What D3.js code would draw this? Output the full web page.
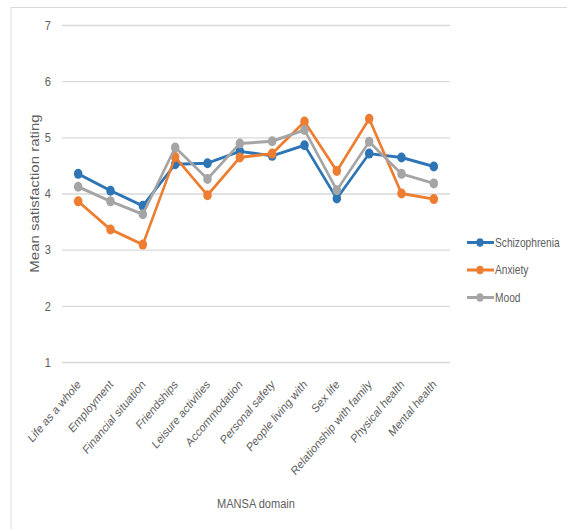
<!DOCTYPE html>
<html>
<head>
<meta charset="utf-8">
<script src="https://cdn.jsdelivr.net/npm/d3@7"></script>
<style>
  html, body { margin: 0; padding: 0; background: #fff; }
  svg { display: block; font-family: "Liberation Sans", Arial, sans-serif; }
</style>
</head>
<body>
<svg id="chart" width="567" height="529"></svg>
<script>
// MANSA domains on the x axis
const domains = [
  "Life as a whole", "Employment", "Financial situation", "Friendships",
  "Leisure activities", "Accommodation", "Personal safety", "People living with",
  "Sex life", "Relationship with family", "Physical health", "Mental health"
];

// Mean satisfaction rating per diagnostic group
const schizophrenia = [4.35, 4.05, 3.78, 4.52, 4.54, 4.75, 4.67, 4.86, 3.91, 4.71, 4.64, 4.48];
const anxiety       = [3.86, 3.36, 3.09, 4.65, 3.97, 4.64, 4.71, 5.28, 4.40, 5.33, 4.00, 3.90];
const mood          = [4.12, 3.86, 3.63, 4.82, 4.26, 4.89, 4.93, 5.13, 4.06, 4.92, 4.35, 4.18];

const seriesNames = ["Schizophrenia", "Anxiety", "Mood"];
const seriesColors = ["#2e75b6", "#ed7d31", "#a5a5a5"];
const yTicks = [1, 2, 3, 4, 5, 6, 7];

const series = [schizophrenia, anxiety, mood].map((values, i) => ({
  name: seriesNames[i], color: seriesColors[i], values
}));

// The figure is laid out in a slightly wider space and squeezed horizontally,
// giving the narrow, tall lettering of the exported chart.
const k = 0.85;
const sx = px => px / k;   // screen x -> drawing x

const svg = d3.select("#chart");
const root = svg.append("g").attr("transform", `scale(${k},1)`);

// light chart-area frame
root.append("rect")
  .attr("x", sx(11)).attr("y", 7.5)
  .attr("width", sx(600)).attr("height", 600)
  .attr("fill", "none").attr("stroke", "#d9d9d9").attr("stroke-width", 1);

const plot = { left: sx(62), right: sx(450), top: 25, bottom: 362 };

const x = d3.scaleBand().domain(domains).range([plot.left, plot.right]);
const y = d3.scaleLinear().domain([1, 7]).range([plot.bottom, plot.top]);
const cx = d => x(d) + x.bandwidth() / 2;

const textColor = "#606060";

// horizontal gridlines + y tick labels
const yAxis = d3.axisLeft(y).tickValues(yTicks)
  .tickSize(-(plot.right - plot.left)).tickPadding(sx(11)).tickFormat(d3.format("d"));
const gy = root.append("g").attr("transform", `translate(${plot.left},0)`).call(yAxis);
gy.select(".domain").remove();
gy.selectAll(".tick line").attr("stroke", "#d9d9d9").attr("stroke-width", 1.3);
gy.selectAll(".tick text").attr("fill", textColor).style("font-size", "13px")
  .style("font-family", "'Liberation Sans', Arial, sans-serif");

// x category labels rotated -45°
const xAxis = d3.axisBottom(x).tickSize(0).tickPadding(0);
const gx = root.append("g").attr("transform", `translate(0,${plot.bottom})`).call(xAxis);
gx.select(".domain").remove();
gx.selectAll(".tick text")
  .attr("fill", textColor).style("font-size", "12.3px")
  .style("font-family", "'Liberation Sans', Arial, sans-serif")
  .attr("text-anchor", "end")
  .attr("x", 0).attr("y", 0).attr("dy", "0.71em")
  .attr("transform", `translate(${sx(-2)},17) rotate(-45)`);

// axis titles
root.append("text")
  .attr("transform", `translate(${sx(35)},${(plot.top + plot.bottom) / 2}) rotate(-90)`)
  .attr("text-anchor", "middle").attr("dy", "0.35em")
  .attr("fill", textColor).style("font-size", "15px")
  .text("Mean satisfaction rating");

root.append("text")
  .attr("x", (plot.left + plot.right) / 2).attr("y", 503.5)
  .attr("text-anchor", "middle").attr("dy", "0.35em")
  .attr("fill", textColor).style("font-size", "13px")
  .text("MANSA domain");

// lines and markers
const line = d3.line().x((d, i) => cx(domains[i])).y(d => y(d));

series.forEach(s => {
  const g = root.append("g");
  g.append("path")
    .datum(s.values)
    .attr("d", line)
    .attr("fill", "none")
    .attr("stroke", s.color)
    .attr("stroke-width", 3)
    .attr("stroke-linejoin", "round");
  g.selectAll("circle")
    .data(s.values)
    .join("circle")
    .attr("cx", (d, i) => cx(domains[i]))
    .attr("cy", d => y(d))
    .attr("r", 5)
    .attr("fill", s.color);
});

// legend
const legend = root.append("g");
series.forEach((s, i) => {
  const ly = 242.5 + i * 27.5;
  legend.append("line")
    .attr("x1", sx(467)).attr("x2", sx(494)).attr("y1", ly).attr("y2", ly)
    .attr("stroke", s.color).attr("stroke-width", 3);
  legend.append("circle")
    .attr("cx", sx(480)).attr("cy", ly).attr("r", 4.2).attr("fill", s.color);
  legend.append("text")
    .attr("x", sx(495)).attr("y", ly).attr("dy", "0.35em")
    .attr("fill", textColor).style("font-size", "12px")
    .text(s.name);
});
</script>
</body>
</html>
